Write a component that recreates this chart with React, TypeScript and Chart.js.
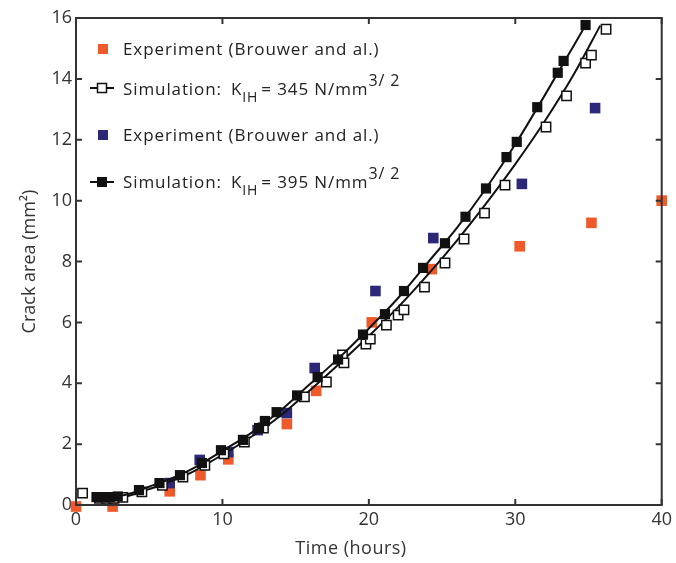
import React, { useEffect, useRef } from "react";
import { Chart, registerables } from "chart.js";

Chart.register(...registerables);

// ---- Data ----
const orangeX = [0, 2.5, 6.4, 8.5, 10.4, 14.4, 16.4, 20.2, 24.3, 30.3, 35.2, 40];
const orangeY = [-0.05, -0.05, 0.45, 0.98, 1.5, 2.66, 3.75, 6.0, 7.75, 8.5, 9.27, 10.0];

const blueX = [6.4, 8.45, 10.4, 12.4, 14.4, 16.3, 20.45, 24.4, 30.45, 35.45];
const blueY = [0.72, 1.48, 1.74, 2.46, 3.02, 4.5, 7.03, 8.77, 10.55, 13.04];

const sim395X = [1.4, 1.85, 2.3, 2.85, 4.3, 5.7, 7.1, 8.6, 9.9, 11.4, 12.5, 12.9, 13.7, 15.1, 16.5, 17.9, 19.6, 21.1, 22.4, 23.7, 25.2, 26.6, 28.0, 29.4, 30.1, 31.5, 32.9, 33.3, 34.8];
const sim395Y = [0.26, 0.26, 0.26, 0.28, 0.49, 0.72, 0.98, 1.38, 1.8, 2.14, 2.53, 2.76, 3.05, 3.6, 4.2, 4.78, 5.6, 6.27, 7.03, 7.79, 8.6, 9.47, 10.4, 11.43, 11.93, 13.07, 14.2, 14.59, 15.77];

const sim345X = [0.45, 1.6, 2.1, 2.6, 3.2, 4.5, 5.9, 7.3, 8.8, 10.1, 11.5, 12.8, 15.6, 17.1, 18.2, 18.3, 19.8, 20.1, 21.2, 22.0, 22.4, 23.8, 25.2, 26.5, 27.9, 29.3, 32.1, 33.5, 34.8, 35.2, 36.2];
const sim345Y = [0.39, 0.22, 0.22, 0.22, 0.25, 0.43, 0.65, 0.92, 1.3, 1.68, 2.07, 2.53, 3.55, 4.04, 4.93, 4.67, 5.29, 5.45, 5.91, 6.24, 6.41, 7.16, 7.95, 8.74, 9.59, 10.51, 12.42, 13.44, 14.52, 14.78, 15.63];

const curve395X = [1.4, 3, 4, 5, 6, 7, 8, 10, 12, 14, 16, 18, 20, 22, 24, 26, 28, 30, 32, 34, 34.9];
const curve395Y = [0.25, 0.3, 0.42, 0.6, 0.78, 0.97, 1.2, 1.78, 2.38, 3.12, 3.98, 4.85, 5.8, 6.8, 7.95, 9.1, 10.4, 11.85, 13.45, 15.1, 15.85];

const curve345X = [1.4, 3, 4, 5, 6, 7, 8, 10, 12, 14, 16, 18, 20, 22, 24, 26, 28, 30, 32, 34, 35.8];
const curve345Y = [0.2, 0.24, 0.36, 0.52, 0.7, 0.88, 1.1, 1.65, 2.25, 2.95, 3.78, 4.65, 5.55, 6.5, 7.55, 8.68, 9.9, 11.2, 12.6, 14.15, 15.75];

const xTicks = [0, 10, 20, 30, 40];
const yTicks = [0, 2, 4, 6, 8, 10, 12, 14, 16];

const legendExp = "Experiment (Brouwer and al.)";
const legendSimA = "345";
const legendSimB = "395";
const xTitle = "Time (hours)";
const yTitle = "Crack area (mm²)";

const ORANGE = "#EE5A2B";
const BLUE = "#2C2877";
const FONT = "'Open Sans', sans-serif";

const pts = (xs: number[], ys: number[]) => xs.map((x, i) => ({ x, y: ys[i] }));

const framePlugin = {
  id: "frame",
  afterDatasetsDraw(chart: any) {
    const { ctx, chartArea: a, scales } = chart;
    ctx.save();
    ctx.strokeStyle = "#333";
    ctx.lineWidth = 2;
    ctx.strokeRect(a.left, a.top, a.right - a.left, a.bottom - a.top);
    const tl = 6;
    ctx.beginPath();
    xTicks.forEach((v) => {
      const px = scales.x.getPixelForValue(v);
      ctx.moveTo(px, a.bottom);
      ctx.lineTo(px, a.bottom - tl);
      ctx.moveTo(px, a.top);
      ctx.lineTo(px, a.top + tl);
    });
    yTicks.forEach((v) => {
      const py = scales.y.getPixelForValue(v);
      ctx.moveTo(a.left, py);
      ctx.lineTo(a.left + tl, py);
      ctx.moveTo(a.right, py);
      ctx.lineTo(a.right - tl, py);
    });
    ctx.stroke();
    ctx.restore();
  },
  afterDraw(chart: any) {
    const { ctx } = chart;
    ctx.save();
    const main = `17px ${FONT}`;
    const sub = `14px ${FONT}`;
    const sup = `16px ${FONT}`;
    ctx.textBaseline = "alphabetic";
    ctx.textAlign = "left";

    // x axis title (slightly left of centre, as in the reference)
    ctx.fillStyle = "#333";
    ctx.font = `18px ${FONT}`;
    ctx.textAlign = "center";
    (ctx as any).letterSpacing = "0.5px";
    ctx.fillText(xTitle, 351, 554);
    ctx.textAlign = "left";
    (ctx as any).letterSpacing = "0.9px";

    const square = (cx: number, cy: number, s: number, fill: string, stroke?: string) => {
      ctx.fillStyle = fill;
      ctx.fillRect(cx - s / 2, cy - s / 2, s, s);
      if (stroke) {
        ctx.strokeStyle = stroke;
        ctx.lineWidth = 1.5;
        ctx.strokeRect(cx - s / 2, cy - s / 2, s, s);
      }
    };
    const simText = (y: number, val: string) => {
      ctx.fillStyle = "#222";
      let x = 123;
      ctx.font = main;
      const t1 = "Simulation:";
      ctx.fillText(t1, x, y);
      x += ctx.measureText(t1).width + 9;
      ctx.fillText("K", x, y);
      x += ctx.measureText("K").width;
      ctx.font = sub;
      ctx.fillText("IH", x, y + 7);
      x += ctx.measureText("IH").width + 3;
      ctx.font = main;
      const t2 = "= " + val + " N/mm";
      ctx.fillText(t2, x, y);
      x += ctx.measureText(t2).width;
      ctx.font = sup;
      ctx.fillText("3/ 2", x, y - 9);
    };
    const lineMark = (y: number) => {
      ctx.strokeStyle = "#111";
      ctx.lineWidth = 2;
      ctx.beginPath();
      ctx.moveTo(90, y);
      ctx.lineTo(114, y);
      ctx.stroke();
    };

    // entry 1
    square(103, 49, 10, ORANGE);
    ctx.fillStyle = "#222";
    ctx.font = main;
    ctx.fillText(legendExp, 123, 55);
    // entry 2
    lineMark(88);
    square(102, 88, 9, "#fff", "#111");
    simText(95, legendSimA);
    // entry 3
    square(103, 135, 10, BLUE);
    ctx.fillStyle = "#222";
    ctx.font = main;
    ctx.fillText(legendExp, 123, 141);
    // entry 4
    lineMark(182);
    square(102, 182, 10, "#111");
    simText(188, legendSimB);
    ctx.restore();
  },
};

export default function App() {
  const ref = useRef<HTMLCanvasElement | null>(null);
  useEffect(() => {
    if (!ref.current) return;
    const chart = new Chart(ref.current, {
      type: "scatter",
      data: {
        datasets: [
          {
            label: "Simulation 395 points",
            data: pts(sim395X, sim395Y),
            pointStyle: "rect",
            pointRadius: 7.2,
            backgroundColor: "#111",
            borderColor: "#111",
            borderWidth: 0,
            showLine: false,
          },
          {
            label: "Simulation 395 curve",
            data: pts(curve395X, curve395Y),
            showLine: true,
            pointRadius: 0,
            borderColor: "#111",
            borderWidth: 2,
            cubicInterpolationMode: "monotone",
          },
          {
            label: "Simulation 345 points",
            data: pts(sim345X, sim345Y),
            pointStyle: "rect",
            pointRadius: 6.6,
            backgroundColor: "#fff",
            borderColor: "#111",
            borderWidth: 1.5,
            showLine: false,
          },
          {
            label: "Simulation 345 curve",
            data: pts(curve345X, curve345Y),
            showLine: true,
            pointRadius: 0,
            borderColor: "#111",
            borderWidth: 2,
            cubicInterpolationMode: "monotone",
          },
          {
            label: "Experiment B",
            data: pts(blueX, blueY),
            pointStyle: "rect",
            pointRadius: 7.5,
            backgroundColor: BLUE,
            borderWidth: 0,
            showLine: false,
          },
          {
            label: "Experiment A",
            data: pts(orangeX, orangeY),
            pointStyle: "rect",
            pointRadius: 7.5,
            backgroundColor: ORANGE,
            borderWidth: 0,
            showLine: false,
          },
        ] as any,
      },
      options: {
        animation: false,
        responsive: false,
        clip: false as any,
        layout: { padding: { left: 0, top: 18, right: 13, bottom: 0 } },
        plugins: { legend: { display: false }, tooltip: { enabled: false } },
        scales: {
          x: {
            type: "linear",
            min: 0,
            max: 40,
            afterFit: (s: any) => {
              s.height = 58;
            },
            afterBuildTicks: (s: any) => {
              s.ticks = xTicks.map((v) => ({ value: v }));
            },
            grid: { display: false, drawTicks: false },
            border: { display: false },
            ticks: { color: "#333", font: { family: FONT, size: 18 }, padding: 4 },
            title: { display: false },
          },
          y: {
            type: "linear",
            min: 0,
            max: 16,
            afterFit: (s: any) => {
              s.width = 76;
            },
            afterBuildTicks: (s: any) => {
              s.ticks = yTicks.map((v) => ({ value: v }));
            },
            grid: { display: false, drawTicks: false },
            border: { display: false },
            ticks: { color: "#333", font: { family: FONT, size: 18 }, padding: 4 },
            title: {
              display: true,
              text: yTitle,
              color: "#333",
              font: { family: FONT, size: 18 },
              padding: { top: 19, bottom: 0 },
            },
          },
        },
      },
      plugins: [framePlugin],
    });
    return () => chart.destroy();
  }, []);
  return (
    <div style={{ position: "absolute", left: 0, top: 0, width: 676, height: 563, background: "#fff" }}>
      <canvas ref={ref} width={676} height={563} style={{ display: "block" }} />
    </div>
  );
}
